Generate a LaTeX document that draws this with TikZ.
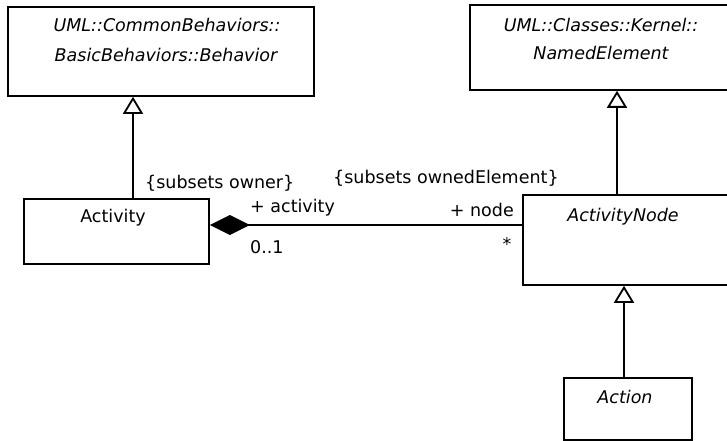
\documentclass[tikz,border=0pt]{standalone}
\usepackage{fontspec}
\setmainfont{DejaVu Sans}
\usetikzlibrary{arrows.meta}
\tikzset{
  umlbox/.style={draw, line width=1.8pt, inner sep=0pt, anchor=north west},
  txt/.style={inner sep=0pt, font=\fontsize{17.5}{22}\selectfont},
  itxt/.style={txt, font=\fontsize{17.5}{22}\selectfont\itshape},
  gen/.style={line width=1.8pt, -{Triangle[open, length=17pt, width=20pt, fill=white]}},
  comp/.style={line width=1.8pt, {Diamond[length=40pt, width=20pt, fill=black]}-}
}
\begin{document}
\begin{tikzpicture}[x=1pt,y=-1pt]
\useasboundingbox (0,0) rectangle (727,441);
\clip (0,0) rectangle (727,441);
% boxes
\node[umlbox, minimum width=306pt, minimum height=89pt] (beh) at (7,6) {};
\node[umlbox, minimum width=266pt, minimum height=85pt] (ne) at (469,4) {};
\node[umlbox, minimum width=185pt, minimum height=65pt] (act) at (23,198) {};
\node[umlbox, minimum width=210pt, minimum height=90pt] (an) at (522,194) {};
\node[umlbox, minimum width=128pt, minimum height=62pt] (action) at (563,377) {};
% box texts
\node[itxt] (behT1) at (167,25) {UML::CommonBehaviors::};
\node[itxt] (behT2) at (166,55) {BasicBehaviors::Behavior};
\node[itxt] (neT1) at (601,25) {UML::Classes::Kernel::};
\node[itxt] (neT2) at (601,53) {NamedElement};
\node[txt] (actT) at (113,218) {Activity};
\node[itxt] (anT) at (623,217) {ActivityNode};
\node[itxt] (actionT) at (625,397) {Action};
% connector x positions
\coordinate (g1) at (133,0);
\coordinate (g2) at (617,0);
\coordinate (g3) at (624,0);
\coordinate (assoc) at (0,225);
% generalizations
\draw[gen] (act.north -| g1) -- (beh.south -| g1);
\draw[gen] (an.north -| g2) -- (ne.south -| g2);
\draw[gen] (action.north -| g3) -- (an.south -| g3);
% composition
\draw[comp] (act.east |- assoc) -- (an.west |- assoc);
% labels
\node[txt, anchor=west] (l1) at (145,183) {\{subsets owner\}};
\node[txt, anchor=west] (l2) at (333,178) {\{subsets ownedElement\}};
\node[txt, anchor=west] (l3) at (250,208) {+ activity};
\node[txt, anchor=west] (l4) at (250,247) {0..1};
\node[txt, anchor=east] (l5) at (514,210) {+ node};
\node[txt] (l6) at (507,244) {*};
\end{tikzpicture}
\end{document}
